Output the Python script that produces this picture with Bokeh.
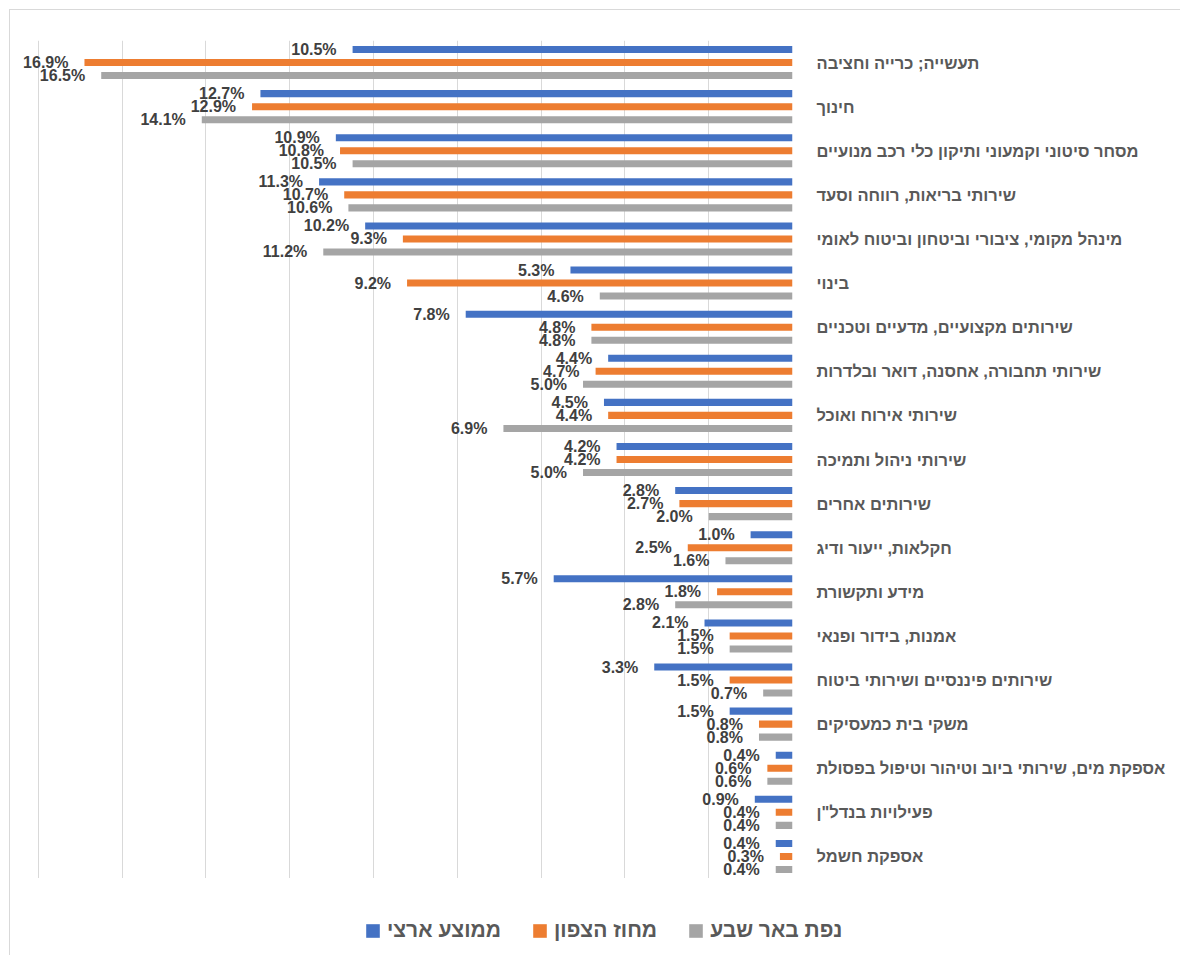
from bokeh.plotting import figure
from bokeh.layouts import column
from bokeh.models import FactorRange, Range1d, ColumnDataSource, Legend, LegendItem, FixedTicker
from bokeh.transform import dodge
from bokeh.core.properties import value
from bokeh.embed import file_html
from bokeh.resources import INLINE

categories = [
    "תעשייה; כרייה וחציבה",
    "חינוך",
    "מסחר סיטוני וקמעוני ותיקון כלי רכב מנועיים",
    "שירותי בריאות, רווחה וסעד",
    "מינהל מקומי, ציבורי וביטחון וביטוח לאומי",
    "בינוי",
    "שירותים מקצועיים, מדעיים וטכניים",
    "שירותי תחבורה, אחסנה, דואר ובלדרות",
    "שירותי אירוח ואוכל",
    "שירותי ניהול ותמיכה",
    "שירותים אחרים",
    "חקלאות, ייעור ודיג",
    "מידע ותקשורת",
    "אמנות, בידור ופנאי",
    "שירותים פיננסיים ושירותי ביטוח",
    "משקי בית כמעסיקים",
    "אספקת מים, שירותי ביוב וטיהור וטיפול בפסולת",
    "פעילויות בנדל\"ן",
    "אספקת חשמל",
]
national = [10.5, 12.7, 10.9, 11.3, 10.2, 5.3, 7.8, 4.4, 4.5, 4.2, 2.8, 1.0, 5.7, 2.1, 3.3, 1.5, 0.4, 0.9, 0.4]
north = [16.9, 12.9, 10.8, 10.7, 9.3, 9.2, 4.8, 4.7, 4.4, 4.2, 2.7, 2.5, 1.8, 1.5, 1.5, 0.8, 0.6, 0.4, 0.3]
beersheva = [16.5, 14.1, 10.5, 10.6, 11.2, 4.6, 4.8, 5.0, 6.9, 5.0, 2.0, 1.6, 2.8, 1.5, 0.7, 0.8, 0.6, 0.4, 0.4]
series_names = ["ממוצע ארצי", "מחוז הצפון", "נפת באר שבע"]
colors = ["#4472C4", "#ED7D31", "#A5A5A5"]
grid_ticks = [0, 2, 4, 6, 8, 10, 12, 14, 16, 18]

FONT = "Liberation Sans"

p = figure(
    frame_width=778, frame_height=838,
    y_range=FactorRange(*list(reversed(categories))),
    x_range=Range1d(18.57, 0),
    y_axis_location="right",
    output_backend="svg", toolbar_location=None,
    min_border_left=4, min_border_right=388, min_border_top=30, min_border_bottom=0,
)
p.outline_line_color = None
p.frame_align = False

p.xaxis.visible = False
p.xgrid.ticker = FixedTicker(ticks=grid_ticks)
p.xgrid.grid_line_color = "#d9d9d9"
p.xgrid.grid_line_width = 1
p.ygrid.grid_line_color = None

yax = p.yaxis[0]
yax.axis_line_color = None
yax.major_tick_line_color = None
yax.minor_tick_line_color = None
yax.major_label_standoff = 18
yax.major_label_text_font = FONT
yax.major_label_text_font_style = "bold"
yax.major_label_text_font_size = "16.5px"
yax.major_label_text_color = "#595959"

offsets = [-0.295, 0.0, 0.295]
sources = []
for name, vals, col, off in zip(series_names, [national, north, beersheva], colors, offsets):
    src = ColumnDataSource(dict(cat=categories, v=vals, lab=[f"{x:.1f}%" for x in vals]))
    sources.append(src)
    p.hbar(y=dodge("cat", -off, range=p.y_range), left=0, right="v", height=0.16,
           source=src, fill_color=col, line_color=None)
    p.text(x="v", y=dodge("cat", -off, range=p.y_range), text="lab", source=src,
           text_align="right", text_baseline="middle", x_offset=-16,
           text_font=value(FONT), text_font_style="bold", text_font_size="16px",
           text_color="#404040")

# legend strip below the chart (its renderers lie outside its visible range)
lg = figure(width=1170, height=77, x_range=Range1d(0, 1), y_range=Range1d(0, 1),
            output_backend="svg", toolbar_location=None,
            min_border_left=0, min_border_right=0, min_border_top=0, min_border_bottom=0)
lg.frame_align = False
lg.axis.visible = False
lg.grid.visible = False
lg.outline_line_color = None
items = []
for name, col, src in zip(series_names, colors, sources):
    r = lg.hbar(y=-10, left=0, right="v", height=0.16, source=src,
                fill_color=col, line_color=None)
    items.append(LegendItem(label=name, renderers=[r]))
legend = Legend(items=items, orientation="horizontal", location=(354, 13),
                label_text_font=FONT, label_text_font_style="bold",
                label_text_font_size="21px", label_text_color="#595959",
                glyph_width=17, glyph_height=17, label_standoff=6, spacing=30,
                border_line_color=None, background_fill_alpha=0, margin=0)
lg.add_layout(legend, "center")

layout = column(p, lg, spacing=0)
layout.styles = {"margin-left": "9px", "margin-top": "9px",
                 "border-top": "1px solid #d9d9d9", "border-left": "1px solid #d9d9d9"}

open("out.html", "w").write(file_html(layout, INLINE))
